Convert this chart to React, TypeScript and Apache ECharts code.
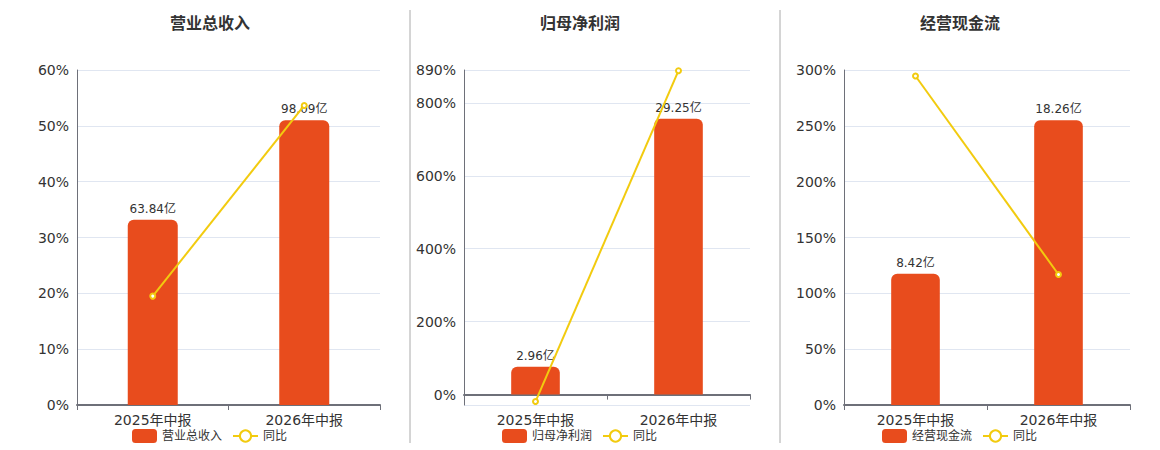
import React, { useEffect, useRef } from "react";
import * as echarts from "echarts";

const categories = ["2025年中报", "2026年中报"];
const titles = ["营业总收入", "归母净利润", "经营现金流"];
const yoyName = "同比";

const revenueValues = [63.84, 98.09];
const revenueYoY = [19.5, 53.65];
const profitValues = [2.96, 29.25];
const profitYoY = [-19.0, 888.18];
const cashflowValues = [8.42, 18.26];
const cashflowYoY = [294.6, 116.9];

const percentMin = [0, -28.5, 0];
const percentMax = [60, 890, 300];
const percentInterval = [10, null, 50];

const barColor = "#E84C1D";
const lineColor = "#F2CB0F";
const fontFamily = '"DejaVu Sans", "Noto Sans CJK SC", sans-serif';

const gridBoxes = [
  { left: 77, width: 303 },
  { left: 464, width: 286 },
  { left: 844, width: 286 },
];
const titleCenters = [210, 580, 960];
const legendLefts = [127, 497, 877];
const separatorXs = [410, 780];

export default function App() {
  const ref = useRef<HTMLDivElement>(null);

  useEffect(() => {
    if (!ref.current) return;
    const chart = echarts.init(ref.current, null, { renderer: "svg" });
    const barSets = [revenueValues, profitValues, cashflowValues];
    const yoySets = [revenueYoY, profitYoY, cashflowYoY];

    const grids: any[] = [];
    const xAxes: any[] = [];
    const yAxes: any[] = [];
    const series: any[] = [];
    const legends: any[] = [];
    const graphics: any[] = [];

    for (let i = 0; i < 3; i++) {
      grids.push({ left: gridBoxes[i].left, width: gridBoxes[i].width, top: 70, height: 335 });
      const belowZero = percentMin[i] < 0;
      xAxes.push({
        type: "category",
        gridIndex: i,
        data: categories,
        axisLine: { show: true, onZero: true, lineStyle: { color: "#6E7079", width: 2 } },
        axisTick: { show: true, length: 5, lineStyle: { color: "#6E7079" } },
        axisLabel: { fontSize: 14, color: "#333", margin: 8, fontFamily },
      });
      const pAxis: any = {
        type: "value",
        gridIndex: i,
        min: percentMin[i],
        max: percentMax[i],
        axisLine: { show: true, lineStyle: { color: "#6E7079", width: 1 } },
        axisTick: { show: false },
        axisLabel: {
          formatter: "{value}%",
          fontSize: 14,
          color: "#333",
          fontFamily,
          showMinLabel: !belowZero,
        },
        splitLine: { show: true, lineStyle: { color: "#E0E6F1" } },
      };
      if (percentInterval[i] != null) pAxis.interval = percentInterval[i];
      yAxes.push(pAxis);
      const barMax = Math.max(...barSets[i]) / 0.85;
      const barMin = (percentMin[i] / percentMax[i]) * barMax;
      yAxes.push({
        type: "value",
        gridIndex: i,
        min: barMin,
        max: barMax,
        show: false,
        splitLine: { show: false },
      });

      series.push({
        name: titles[i],
        type: "bar",
        xAxisIndex: i,
        yAxisIndex: i * 2 + 1,
        data: barSets[i],
        barWidth: "34%",
        barMaxWidth: 50,
        itemStyle: { color: barColor, borderRadius: [6, 6, 0, 0] },
        label: {
          show: true,
          position: "top",
          fontSize: 12,
          color: "#333",
          fontFamily,
          formatter: (p: any) => `${p.value}亿`,
        },
        z: 2,
      });
      series.push({
        name: yoyName,
        type: "line",
        xAxisIndex: i,
        yAxisIndex: i * 2,
        data: yoySets[i],
        symbol: "emptyCircle",
        symbolSize: 5,
        lineStyle: { color: lineColor, width: 2 },
        itemStyle: { color: lineColor, borderWidth: 2 },
        z: 5,
      });

      legends.push({
        left: legendLefts[i],
        top: 424,
        itemWidth: 25,
        itemHeight: 14,
        itemGap: 10,
        data: [titles[i], yoyName],
        textStyle: { fontSize: 12, color: "#333", fontFamily },
        selectedMode: false,
      });

      graphics.push({
        type: "text",
        x: titleCenters[i],
        y: 23,
        style: {
          text: titles[i],
          font: `bold 16px ${fontFamily}`,
          fill: "#333",
          align: "center",
          verticalAlign: "middle",
          textAlign: "center",
          textVerticalAlign: "middle",
        },
      });
    }

    separatorXs.forEach((x) => {
      graphics.push({
        type: "line",
        shape: { x1: x, y1: 10, x2: x, y2: 443 },
        style: { stroke: "#AAAAAA", lineWidth: 1 },
      });
    });

    chart.setOption({
      animation: false,
      backgroundColor: "#ffffff",
      textStyle: { fontFamily },
      grid: grids,
      xAxis: xAxes,
      yAxis: yAxes,
      legend: legends,
      series,
      graphic: graphics,
    });

    return () => chart.dispose();
  }, []);

  return (
    <div
      ref={ref}
      style={{ position: "absolute", left: 0, top: 0, width: 1160, height: 450 }}
    />
  );
}
